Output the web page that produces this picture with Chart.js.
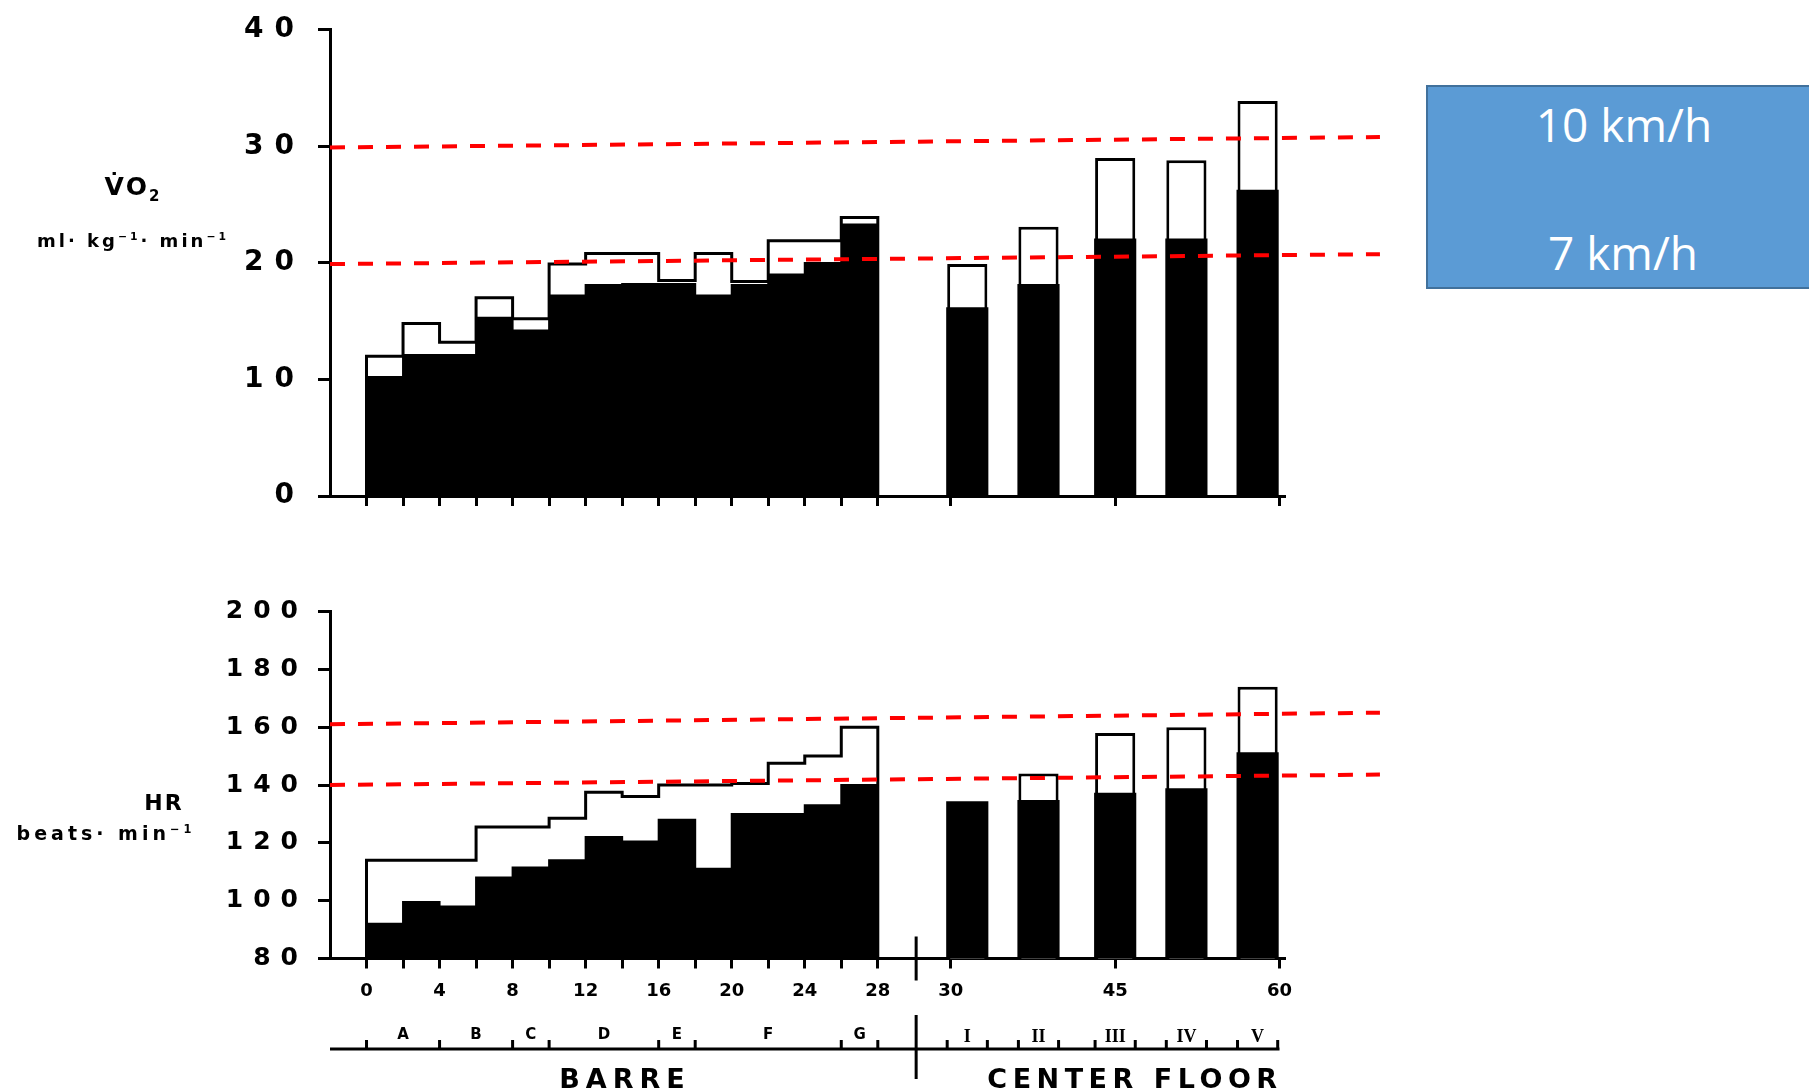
<!DOCTYPE html>
<html>
<head>
<meta charset="utf-8">
<title>VO2 and HR during a ballet class</title>
<script src="https://cdn.jsdelivr.net/npm/chart.js@4.4.0/dist/chart.umd.min.js"></script>
<style>
  body { margin: 0; width: 1809px; height: 1092px; background: #fff; position: relative; overflow: hidden; font-family: "DejaVu Sans", sans-serif; }
  canvas { position: absolute; left: 0; }
  #vo2Chart { top: 0; }
  #hrChart { top: 560px; }
  .lbl { position: absolute; font-weight: bold; color: #000; white-space: nowrap; transform: translate(-50%, -50%); }
  sub, sup { font-size: 60%; line-height: 0; }
  .speedBox { position: absolute; left: 1426px; top: 85px; width: 420px; height: 204px; background: #5b9bd5; border: 2px solid #41719c; box-sizing: border-box; }
  .speed { position: absolute; color: #fff; font-family: "Open Sans", sans-serif; font-size: 46px; white-space: nowrap; transform: translate(-50%, -50%); }
</style>
</head>
<body>
<canvas id="vo2Chart" width="1420" height="530"></canvas>
<canvas id="hrChart" width="1420" height="532"></canvas>

<div class="lbl" style="left:133px;top:186px;font-size:25px;letter-spacing:2px">V&#775;O<sub>2</sub></div>
<div class="lbl" style="left:133px;top:240px;font-size:18px;letter-spacing:3px">ml· kg<sup>−1</sup>· min<sup>−1</sup></div>
<div class="lbl" style="left:164px;top:802px;font-size:22px;letter-spacing:2px">HR</div>
<div class="lbl" style="left:106px;top:833px;font-size:19px;letter-spacing:4px">beats· min<sup>−1</sup></div>
<div class="lbl" style="left:625px;top:1078px;font-size:27px;letter-spacing:6px">BARRE</div>
<div class="lbl" style="left:1135px;top:1078px;font-size:27px;letter-spacing:5.5px">CENTER FLOOR</div>

<div class="speedBox"></div>
<div class="speed" style="left:1624px;top:124px">10 km/h</div>
<div class="speed" style="left:1623px;top:252px">7 km/h</div>

<script>
// barre: one bar per 2-min segment (start minute)
const barreStart = [0, 2, 4, 6, 8, 10, 12, 14, 16, 18, 20, 22, 24, 26];
const barreEnd = 28;
// centre floor exercises I-V (middle of each bar, minutes)
const floorMinutes = [31.5, 38, 45, 51.5, 58];

// VO2 ml/kg/min - mean (black) and peak (white box)
const vo2BarreMean = [10.2, 12.1, 12.1, 15.3, 14.2, 17.2, 18.1, 18.2, 18.2, 17.2, 18.1, 19.0, 20.0, 23.3];
const vo2BarrePeak = [12.0, 14.8, 13.2, 17.0, 15.2, 19.9, 20.8, 20.8, 18.5, 20.8, 18.4, 21.9, 21.9, 23.9];
const vo2FloorMean = [16.1, 18.1, 22.0, 22.0, 26.2];
const vo2FloorPeak = [19.9, 23.1, 29.0, 28.8, 33.9];

// HR beats/min
const hrBarreMean = [92, 99.5, 98, 108, 111.5, 114, 122, 120.5, 128, 111, 130, 130, 133, 140];
const hrBarrePeak = [114, 114, 114, 125.5, 125.5, 128.5, 137.5, 136, 140, 140, 140.5, 147.5, 150, 160];
const hrFloorMean = [134, 134.5, 137, 138.5, 151];
const hrFloorPeak = [134, 144, 158, 160, 174];

// red dashed lines (running at 10 km/h and 7 km/h), values at left and right end
const refLineX = [-2, 55.5];
const vo2Run10 = [29.9, 30.8];
const vo2Run7 = [19.9, 20.75];
const hrRun10 = [161, 165];
const hrRun7 = [140, 143.6];

// axis labels
const barreTickLabels = [0, 4, 8, 12, 16, 20, 24, 28];
const floorTickLabels = [30, 45, 60];
const barreSections = [0, 4, 8, 10, 16, 18, 26, 28];
const barreLetters = ['A', 'B', 'C', 'D', 'E', 'F', 'G'];
const floorLetters = ['I', 'II', 'III', 'IV', 'V'];

// barre is 1 axis unit per minute, centre floor is squeezed in after the break
const floorStart = 32, floorScale = 0.6, axisBreak = 30.1;
const floorBarWidth = 2.2;   // axis units, barre bars are 2
const xMin = -2, xMax = 50.3;

function axisPos(min) {
    return min <= 28 ? min : floorStart + (min - 30) * floorScale;
}

//tick list for the minute axis
const xTickList = [];
barreStart.concat([barreEnd]).forEach(m => {
    xTickList.push({ value: axisPos(m), label: barreTickLabels.includes(m) ? String(m) : '' });
});
floorTickLabels.forEach(m => xTickList.push({ value: axisPos(m), label: String(m) }));

//letters under the axis
const sectionTickList = [];
barreLetters.forEach((l, i) => {
    sectionTickList.push({ value: (barreSections[i] + barreSections[i + 1]) / 2, label: l });
});
floorLetters.forEach((l, i) => sectionTickList.push({ value: axisPos(floorMinutes[i]), label: l }));

//bracket edges under the letters
const bracketEdges = barreSections.slice();
floorMinutes.forEach(m => {
    bracketEdges.push(axisPos(m) - floorBarWidth / 2, axisPos(m) + floorBarWidth / 2);
});

// wide letter spacing on the y tick numbers
const spacedLabels = {
    id: 'spacedLabels',
    afterLayout(chart, args, opts) {
        const s = chart.scales.y;
        if (s.$spaced) return;
        const orig = s.drawLabels;
        s.drawLabels = function (area) {
            chart.ctx.save();
            chart.ctx.letterSpacing = opts.spacing + 'px';
            orig.call(this, area);
            chart.ctx.restore();
        };
        s.$spaced = true;
    }
};

// bracket line, its edge marks and the axis break
const sectionMarks = {
    id: 'sectionMarks',
    afterDraw(chart) {
        const ctx = chart.ctx;
        const x = chart.scales.x;
        const y = chart.scales.x2.bottom + 2.5;
        const base = chart.chartArea.bottom;
        ctx.save();
        ctx.strokeStyle = '#000';
        ctx.lineWidth = 3;
        ctx.beginPath();
        ctx.moveTo(chart.chartArea.left, y);
        ctx.lineTo(x.getPixelForValue(axisPos(60)), y);
        bracketEdges.forEach(u => {
            const px = x.getPixelForValue(u);
            ctx.moveTo(px, y);
            ctx.lineTo(px, y - 9);
        });
        const bx = x.getPixelForValue(axisBreak);
        ctx.moveTo(bx, base - 22);
        ctx.lineTo(bx, base + 22);
        ctx.moveTo(bx, y - 34);
        ctx.lineTo(bx, y + 30);
        ctx.stroke();
        ctx.restore();
    }
};

function pts(xs, ys) {
    return xs.map((x, i) => ({ x: x, y: ys[i] }));
}

function refLine(ys) {
    return {
        type: 'line',
        data: pts(refLineX, ys),
        borderColor: '#ff0000',
        borderWidth: 4,
        borderDash: [15, 13],
        pointRadius: 0,
        clip: false,
        order: 0,
        xAxisID: 'x'
    };
}

// barre peaks are one stepped outline, not separate boxes
function peakOutline(peaks, base) {
    const xs = [0].concat(barreStart, [barreEnd, barreEnd]).map(axisPos);
    const ys = [base].concat(peaks, [peaks[peaks.length - 1], base]);
    return {
        type: 'line',
        data: pts(xs, ys),
        borderColor: '#000',
        borderWidth: 3,
        borderJoinStyle: 'miter',
        stepped: true,
        pointRadius: 0,
        fill: false,
        order: 0.5,
        xAxisID: 'x'
    };
}

function bars(xs, ys, fill, border, order, pct) {
    return {
        type: 'bar',
        data: pts(xs, ys),
        backgroundColor: fill,
        borderColor: '#000',
        borderWidth: border,
        borderSkipped: 'start',
        inflateAmount: border ? 0 : 1,
        grouped: false,
        categoryPercentage: 1,
        barPercentage: pct,
        order: order,
        xAxisID: 'x'
    };
}

function drawChart(id, d) {
    const barreX = barreStart.map(m => axisPos(m + 1));
    const floorX = floorMinutes.map(axisPos);
    const floorPct = floorBarWidth / 2;

    const scales = {
        x: {
            type: 'linear', min: xMin, max: xMax, offset: false,
            afterBuildTicks: s => { s.ticks = xTickList.map(t => ({ value: t.value })); },
            afterFit: s => { s.height = d.xHeight; },
            grid: { offset: false, drawOnChartArea: false, tickLength: 10, tickWidth: 3, tickColor: '#000' },
            border: { color: '#000', width: 3 },
            ticks: {
                autoSkip: false, maxRotation: 0, color: '#000', padding: 12,
                font: { family: 'DejaVu Sans', size: 18, weight: 'bold' },
                callback: (v, i) => d.xLabels ? xTickList[i].label : ''
            }
        },
        y: {
            min: d.yMin, max: d.yMax,
            afterFit: s => { s.width = 330; },
            grid: { drawOnChartArea: false, tickLength: 12, tickWidth: 3, tickColor: '#000' },
            border: { color: '#000', width: 3 },
            ticks: {
                stepSize: d.step, color: '#000', padding: d.tickPad,
                font: { family: 'DejaVu Sans', size: d.tickSize, weight: 'bold' }
            }
        }
    };

    if (d.letters) {
        scales.x2 = {
            type: 'linear', position: 'bottom', weight: 1, min: xMin, max: xMax, offset: false,
            afterBuildTicks: s => { s.ticks = sectionTickList.map(t => ({ value: t.value })); },
            afterFit: s => { s.height = 36; },
            grid: { display: false, offset: false },
            border: { display: false },
            ticks: {
                autoSkip: false, maxRotation: 0, color: '#000', padding: 8,
                font: ctx => ctx.index >= barreLetters.length
                    ? { family: 'Liberation Serif', size: 18, weight: 'bold' }
                    : { family: 'DejaVu Sans', size: 15, weight: 'bold' },
                callback: (v, i) => sectionTickList[i].label
            }
        };
    }

    return new Chart(id, {
        type: 'bar',
        data: {
            datasets: [
                refLine(d.run10),
                refLine(d.run7),
                peakOutline(d.barrePeak, d.yMin),
                bars(barreX, d.barreMean, '#000', 0, 1, 1),
                bars(floorX, d.floorMean, '#000', 0, 1, floorPct),
                bars(floorX, d.floorPeak, '#fff', 3, 2, floorPct)
            ]
        },
        options: {
            responsive: false,
            animation: false,
            devicePixelRatio: 1,
            events: [],
            layout: { padding: d.padding },
            scales: scales,
            plugins: {
                legend: { display: false },
                tooltip: { enabled: false },
                spacedLabels: { spacing: d.spacing }
            }
        },
        plugins: d.letters ? [spacedLabels, sectionMarks] : [spacedLabels]
    });
}

drawChart('vo2Chart', {
    yMin: 0, yMax: 40, step: 10,
    barreMean: vo2BarreMean, barrePeak: vo2BarrePeak,
    floorMean: vo2FloorMean, floorPeak: vo2FloorPeak,
    run10: vo2Run10, run7: vo2Run7,
    xLabels: false, letters: false, xHeight: 20,
    tickSize: 28, spacing: 11, tickPad: 13,
    padding: { top: 25, right: 135, bottom: 14, left: 0 }
});

drawChart('hrChart', {
    yMin: 80, yMax: 200, step: 20,
    barreMean: hrBarreMean, barrePeak: hrBarrePeak,
    floorMean: hrFloorMean, floorPeak: hrFloorPeak,
    run10: hrRun10, run7: hrRun7,
    xLabels: true, letters: true, xHeight: 52,
    tickSize: 25, spacing: 10, tickPad: 10,
    padding: { top: 51.5, right: 135, bottom: 45.5, left: 0 }
});
</script>
</body>
</html>
